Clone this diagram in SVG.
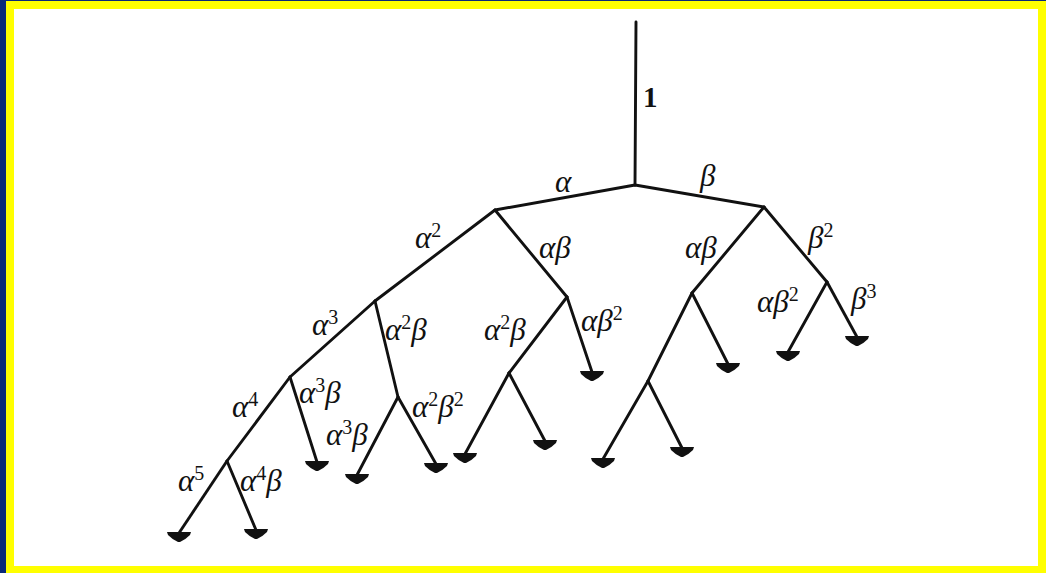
<svg xmlns="http://www.w3.org/2000/svg" width="1046" height="573" viewBox="0 0 1046 573">
<style>
.e{stroke:#111;stroke-width:2.9;fill:none;stroke-linecap:round;stroke-linejoin:round}
.t{font-family:"Liberation Serif","Times New Roman",serif;font-size:31px;font-style:italic;fill:#111}
.s{font-size:20px;font-style:normal}
.n{font-family:"Liberation Serif","Times New Roman",serif;font-size:29px;font-weight:bold;fill:#111}
.leaf{fill:#111}
</style>
<defs>
<path id="lf" d="M-12,-1 L12,-1 L11,2 Q6,7 1,9 L-1,9 Q-6,7 -11,2 Z"/>
</defs>
<rect x="0" y="0" width="1046" height="573" fill="#0a2a78"/>
<rect x="6" y="1" width="1040" height="572" fill="#ffff00"/>
<rect x="14" y="9" width="1024" height="557" fill="#ffffff"/>

<g id="connectors">
<polyline class="e" points="636,22 635,185"/>
<polyline class="e" points="635,185 495,210"/>
<polyline class="e" points="635,185 764,207"/>
<polyline class="e" points="495,210 375,301"/>
<polyline class="e" points="495,210 567,297"/>
<polyline class="e" points="764,207 692,293"/>
<polyline class="e" points="764,207 827,282"/>
<polyline class="e" points="375,301 290,377"/>
<polyline class="e" points="375,301 398,397"/>
<polyline class="e" points="567,297 509,373"/>
<polyline class="e" points="567,297 592,372"/>
<polyline class="e" points="692,293 648,381"/>
<polyline class="e" points="692,293 728,364"/>
<polyline class="e" points="827,282 788,352"/>
<polyline class="e" points="827,282 857,337"/>
<polyline class="e" points="290,377 227,461"/>
<polyline class="e" points="290,377 317,462"/>
<polyline class="e" points="398,397 357,475"/>
<polyline class="e" points="398,397 436,464"/>
<polyline class="e" points="509,373 465,454"/>
<polyline class="e" points="509,373 545,441"/>
<polyline class="e" points="648,381 603,459"/>
<polyline class="e" points="648,381 682,448"/>
<polyline class="e" points="227,461 179,533"/>
<polyline class="e" points="227,461 256,530"/>
</g>

<g id="labels">
<text class="n" x="643" y="107">1</text>
<text class="t" x="555" y="192">α</text>
<text class="t" x="700" y="186">β</text>
<text class="t" x="415" y="248">α<tspan class="s" dy="-11">2</tspan></text>
<text class="t" x="539" y="258">αβ</text>
<text class="t" x="685" y="258">αβ</text>
<text class="t" x="808" y="248">β<tspan class="s" dy="-11">2</tspan></text>
<text class="t" x="312" y="335">α<tspan class="s" dy="-11">3</tspan></text>
<text class="t" x="385" y="340">α<tspan class="s" dy="-11">2</tspan><tspan dy="11">β</tspan></text>
<text class="t" x="484" y="340">α<tspan class="s" dy="-11">2</tspan><tspan dy="11">β</tspan></text>
<text class="t" x="581" y="331">αβ<tspan class="s" dy="-11">2</tspan></text>
<text class="t" x="757" y="312">αβ<tspan class="s" dy="-11">2</tspan></text>
<text class="t" x="851" y="309">β<tspan class="s" dy="-11">3</tspan></text>
<text class="t" x="232" y="417">α<tspan class="s" dy="-11">4</tspan></text>
<text class="t" x="299" y="403">α<tspan class="s" dy="-11">3</tspan><tspan dy="11">β</tspan></text>
<text class="t" x="326" y="445">α<tspan class="s" dy="-11">3</tspan><tspan dy="11">β</tspan></text>
<text class="t" x="412" y="417">α<tspan class="s" dy="-11">2</tspan><tspan dy="11">β</tspan><tspan class="s" dy="-11">2</tspan></text>
<text class="t" x="178" y="491">α<tspan class="s" dy="-11">5</tspan></text>
<text class="t" x="240" y="491">α<tspan class="s" dy="-11">4</tspan><tspan dy="11">β</tspan></text>
</g>

<g id="leaf-ab2"><use href="#lf" class="leaf" x="592" y="372"/></g>
<g id="leaf-ba-r"><use href="#lf" class="leaf" x="728" y="364"/></g>
<g id="leaf-bb-l"><use href="#lf" class="leaf" x="788" y="352"/></g>
<g id="leaf-bb-r"><use href="#lf" class="leaf" x="857" y="337"/></g>
<g id="leaf-a3-r"><use href="#lf" class="leaf" x="317" y="462"/></g>
<g id="leaf-a2b-l"><use href="#lf" class="leaf" x="357" y="475"/></g>
<g id="leaf-a2b-r"><use href="#lf" class="leaf" x="436" y="464"/></g>
<g id="leaf-aba-l"><use href="#lf" class="leaf" x="465" y="454"/></g>
<g id="leaf-aba-r"><use href="#lf" class="leaf" x="545" y="441"/></g>
<g id="leaf-bal-l"><use href="#lf" class="leaf" x="603" y="459"/></g>
<g id="leaf-bal-r"><use href="#lf" class="leaf" x="682" y="448"/></g>
<g id="leaf-a4-l"><use href="#lf" class="leaf" x="179" y="533"/></g>
<g id="leaf-a4-r"><use href="#lf" class="leaf" x="256" y="530"/></g>
</svg>
